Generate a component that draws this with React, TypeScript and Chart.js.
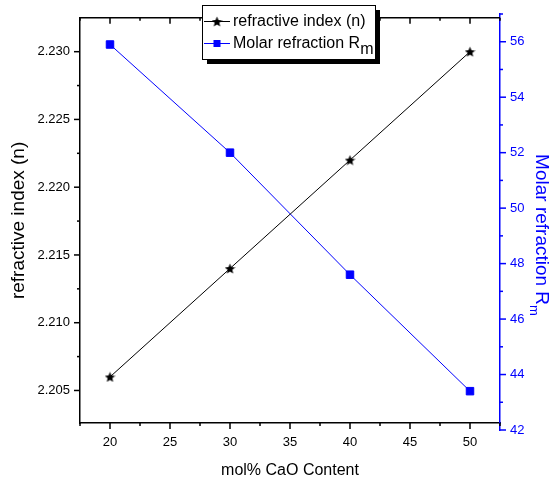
import { useEffect, useRef } from 'react';
import { Chart, registerables } from 'chart.js';

Chart.register(...registerables);

// Measured data
const caoContent = [20, 30, 40, 50];
const refractiveIndex = [2.206, 2.214, 2.222, 2.23];
const molarRefraction = [55.9, 52.0, 47.6, 43.4];

// Axis ticks
const xMajorTicks = [20, 25, 30, 35, 40, 45, 50];
const xMinorTicks = [17.5, 22.5, 27.5, 32.5, 37.5, 42.5, 47.5, 52.5];
const nMajorTicks = [2.205, 2.21, 2.215, 2.22, 2.225, 2.23];
const nMinorTicks = [2.2075, 2.2125, 2.2175, 2.2225, 2.2275];
const rmMajorTicks = [42, 44, 46, 48, 50, 52, 54, 56];
const rmMinorTicks = [43, 45, 47, 49, 51, 53, 55, 57];

// Text
const xTitle = 'mol% CaO Content';
const nTitle = 'refractive index (n)';
const rmTitle = 'Molar refraction R';
const rmSubscript = 'm';

const FONT = '"Liberation Sans", Arial, Helvetica, sans-serif';
const BLUE = '#0000ff';

function makeStar(size: number, color: string): HTMLCanvasElement {
  const c = document.createElement('canvas');
  c.width = size;
  c.height = size;
  const g = c.getContext('2d')!;
  const cx = size / 2;
  const cy = size / 2 + 0.6;
  const R = size / 2;
  const r = R * 0.45;
  g.beginPath();
  for (let i = 0; i < 10; i++) {
    const a = -Math.PI / 2 + (i * Math.PI) / 5;
    const rad = i % 2 === 0 ? R : r;
    const px = cx + rad * Math.cos(a);
    const py = cy + rad * Math.sin(a);
    if (i === 0) g.moveTo(px, py);
    else g.lineTo(px, py);
  }
  g.closePath();
  g.fillStyle = color;
  g.fill();
  return c;
}

function seg(ctx: CanvasRenderingContext2D, x1: number, y1: number, x2: number, y2: number) {
  ctx.beginPath();
  ctx.moveTo(x1, y1);
  ctx.lineTo(x2, y2);
  ctx.stroke();
}

export default function App() {
  const canvasRef = useRef<HTMLCanvasElement | null>(null);

  useEffect(() => {
    const canvas = canvasRef.current;
    if (!canvas) return;
    const star = makeStar(11, '#000');

    // Right axis sits slightly lower than the frame; frame ticks, top border, legend and right title
    const decorations = {
      id: 'decorations',
      afterLayout(chart: any) {
        const s = chart.scales.y1;
        s.top = 14;
        s.bottom = 430;
        s.height = s.bottom - s.top;
        s.configure();
      },
      afterDraw(chart: any) {
        const { ctx, chartArea: a, scales } = chart;
        ctx.save();
        ctx.lineWidth = 1.5;
        ctx.strokeStyle = '#000';
        // top frame
        seg(ctx, a.left - 0.75, a.top, a.right, a.top);
        // x ticks (outward at bottom, inward at top)
        const xt = (v: number, len: number) => {
          const px = scales.x.getPixelForValue(v);
          seg(ctx, px, a.bottom, px, a.bottom + len);
          seg(ctx, px, a.top, px, a.top + len);
        };
        xMajorTicks.forEach((v) => xt(v, 6));
        xMinorTicks.forEach((v) => xt(v, 3));
        // left ticks
        const yt = (v: number, len: number) => {
          const py = scales.y.getPixelForValue(v);
          seg(ctx, a.left - len, py, a.left, py);
        };
        nMajorTicks.forEach((v) => yt(v, 6));
        nMinorTicks.forEach((v) => yt(v, 3));
        // right ticks
        ctx.strokeStyle = BLUE;
        const r = scales.y1;
        const rt = (v: number, len: number) => {
          const py = r.getPixelForValue(v);
          seg(ctx, r.left, py, r.left + len, py);
        };
        rmMajorTicks.forEach((v) => rt(v, 6));
        rmMinorTicks.forEach((v) => rt(v, 3));

        // right axis title with subscript
        ctx.fillStyle = BLUE;
        ctx.textBaseline = 'middle';
        ctx.textAlign = 'left';
        ctx.font = `19px ${FONT}`;
        const w1 = ctx.measureText(rmTitle).width;
        ctx.font = `13px ${FONT}`;
        const w2 = ctx.measureText(rmSubscript).width;
        ctx.translate(541, 235);
        ctx.rotate(Math.PI / 2);
        ctx.font = `19px ${FONT}`;
        ctx.fillText(rmTitle, -(w1 + w2) / 2, 0);
        ctx.font = `13px ${FONT}`;
        ctx.fillText(rmSubscript, -(w1 + w2) / 2 + w1, 7);
        ctx.restore();

        // legend
        ctx.save();
        const bx = 202;
        const by = 5;
        const bw = 173;
        const bh = 54;
        ctx.fillStyle = '#000';
        ctx.fillRect(bx + 5, by + 5, bw, bh);
        ctx.fillStyle = '#fff';
        ctx.fillRect(bx, by, bw, bh);
        ctx.strokeStyle = '#000';
        ctx.lineWidth = 1;
        ctx.strokeRect(bx + 0.5, by + 0.5, bw, bh);

        ctx.textBaseline = 'middle';
        ctx.textAlign = 'left';
        ctx.font = `16px ${FONT}`;
        // row 1
        ctx.strokeStyle = '#000';
        seg(ctx, 204, 21.5, 230, 21.5);
        ctx.drawImage(star, 217 - star.width / 2, 21.5 - star.height / 2);
        ctx.fillStyle = '#000';
        ctx.fillText(chart.data.datasets[0].label, 233, 22);
        // row 2
        ctx.strokeStyle = BLUE;
        seg(ctx, 204, 43.5, 230, 43.5);
        ctx.fillStyle = BLUE;
        ctx.fillRect(213.5, 40, 7, 7);
        ctx.fillStyle = '#000';
        ctx.fillText(rmTitle, 233, 44);
        const lw = ctx.measureText(rmTitle).width;
        ctx.fillText(rmSubscript, 233 + lw, 50);
        ctx.restore();
      },
    };

    const chart = new Chart(canvas, {
      type: 'line',
      data: {
        datasets: [
          {
            label: nTitle,
            data: caoContent.map((x, i) => ({ x, y: refractiveIndex[i] })),
            yAxisID: 'y',
            borderColor: '#000',
            backgroundColor: '#000',
            borderWidth: 1,
            pointStyle: star,
            pointRadius: 5,
          },
          {
            label: rmTitle + rmSubscript,
            data: caoContent.map((x, i) => ({ x, y: molarRefraction[i] })),
            yAxisID: 'y1',
            borderColor: BLUE,
            backgroundColor: BLUE,
            borderWidth: 1,
            pointStyle: 'rect',
            pointRadius: 5.3,
          },
        ],
      },
      options: {
        responsive: false,
        maintainAspectRatio: false,
        animation: false,
        devicePixelRatio: 1,
        layout: { padding: { top: 7, left: 0, right: 0, bottom: 0 } },
        plugins: {
          legend: { display: false },
          tooltip: { enabled: false },
        },
        scales: {
          x: {
            type: 'linear',
            min: 17.5,
            max: 52.5,
            afterBuildTicks: (s: any) => {
              s.ticks = xMajorTicks.map((v) => ({ value: v }));
            },
            afterFit: (s: any) => {
              s.height = 66;
            },
            ticks: {
              autoSkip: false,
              maxRotation: 0,
              padding: 12,
              color: '#000',
              font: { family: FONT, size: 13 },
            },
            grid: { display: true, drawOnChartArea: false, drawTicks: false },
            border: { display: true, color: '#000', width: 1.5 },
            title: {
              display: true,
              text: xTitle,
              color: '#000',
              font: { family: FONT, size: 16 },
              padding: 9,
            },
          },
          y: {
            type: 'linear',
            position: 'left',
            min: 2.2026,
            max: 2.2325,
            afterBuildTicks: (s: any) => {
              s.ticks = nMajorTicks.map((v) => ({ value: v }));
            },
            afterFit: (s: any) => {
              s.width = 80;
            },
            ticks: {
              autoSkip: false,
              padding: 10,
              color: '#000',
              font: { family: FONT, size: 13 },
              callback: (v: any) => Number(v).toFixed(3),
            },
            grid: { display: true, drawOnChartArea: false, drawTicks: false },
            border: { display: true, color: '#000', width: 1.5 },
            title: {
              display: true,
              text: nTitle,
              color: '#000',
              font: { family: FONT, size: 19 },
              padding: 7,
            },
          },
          y1: {
            type: 'linear',
            position: 'right',
            min: 42,
            max: 57,
            afterBuildTicks: (s: any) => {
              s.ticks = rmMajorTicks.map((v) => ({ value: v }));
            },
            afterFit: (s: any) => {
              s.width = 52;
            },
            ticks: {
              autoSkip: false,
              padding: 10,
              color: BLUE,
              font: { family: FONT, size: 13 },
              callback: (v: any) => String(v),
            },
            grid: { display: true, drawOnChartArea: false, drawTicks: false },
            border: { display: true, color: BLUE, width: 1.5 },
          },
        },
      },
      plugins: [decorations],
    } as any);

    return () => chart.destroy();
  }, []);

  return (
    <div style={{ position: 'fixed', left: 0, top: 0, width: 552, height: 489, background: '#fff' }}>
      <canvas ref={canvasRef} width={552} height={489} />
    </div>
  );
}
